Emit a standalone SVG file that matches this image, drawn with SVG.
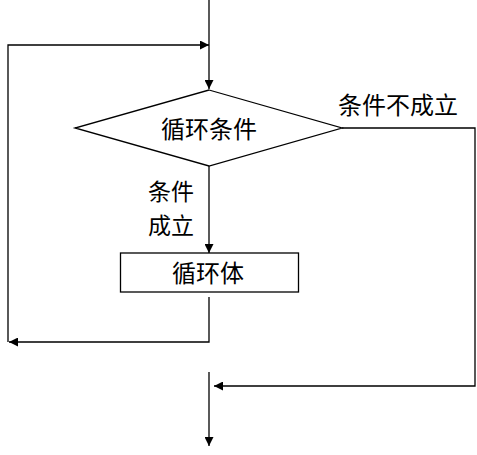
<svg xmlns="http://www.w3.org/2000/svg" width="477" height="455" viewBox="0 0 477 455">
<style>
.ln{fill:none;stroke:#000;stroke-width:1.3}
.sh{fill:#fff;stroke:#000;stroke-width:1.3}
.t{font-family:"Noto Sans CJK SC","Noto Sans",sans-serif;font-size:24px;fill:#000}
.s{font-size:23px}
</style>
<defs>
<marker id="ah" viewBox="0 0 10 10" refX="10" refY="5" markerWidth="9" markerHeight="9" markerUnits="userSpaceOnUse" orient="auto">
<path d="M0,0 L10,5 L0,10 Z" fill="#000"/>
</marker>
</defs>
<rect width="477" height="455" fill="#fff"/>
<g id="connectors">
<line class="ln" x1="209" y1="0" x2="209" y2="89" marker-end="url(#ah)"/>
<polyline class="ln" points="209,297 209,342 9,342" marker-end="url(#ah)"/>
<polyline class="ln" points="8,342 8,45 209,45" marker-end="url(#ah)"/>
<line class="ln" x1="209" y1="166" x2="209" y2="253" marker-end="url(#ah)"/>
<polyline class="ln" points="342,128 475,128 475,386 214,386" marker-end="url(#ah)"/>
<line class="ln" x1="209" y1="372" x2="209" y2="446" marker-end="url(#ah)"/>
<text class="t" x="338" y="114">条件不成立</text>
<text class="t s"><tspan x="148" y="200">条件</tspan><tspan x="148" y="234">成立</tspan></text>
</g>
<g id="cond">
<polygon class="sh" points="209,90 342,128 209,166 75,128"/>
<text class="t" x="209" y="138" text-anchor="middle">循环条件</text>
</g>
<g id="body">
<rect class="sh" x="120.5" y="253" width="178" height="39"/>
<text class="t" x="208" y="282" text-anchor="middle">循环体</text>
</g>
</svg>
